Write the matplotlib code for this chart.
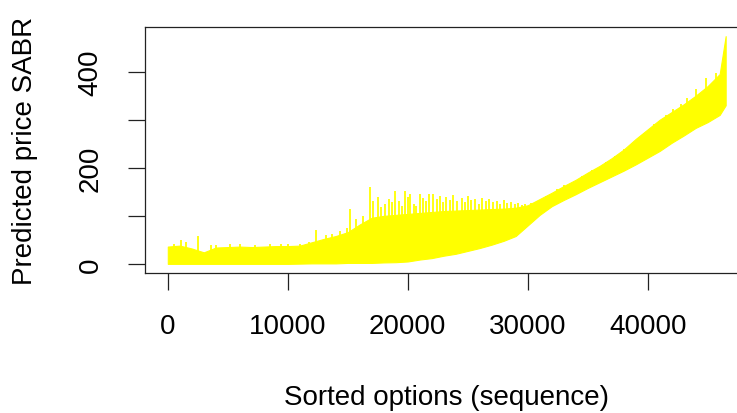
import numpy as np
import matplotlib
matplotlib.use('Agg')
import matplotlib.pyplot as plt

# Sorted option index (read every 1000 along the sequence)
seq = [0, 1000, 2000, 3000, 4000, 5000, 6000, 7000, 8000, 9000,
       10000, 11000, 12000, 13000, 14000, 15000, 16000, 17000, 18000, 19000,
       20000, 21000, 22000, 23000, 24000, 25000, 26000, 27000, 28000, 29000,
       30000, 31000, 32000, 33000, 34000, 35000, 36000, 37000, 38000, 39000,
       40000, 41000, 42000, 43000, 44000, 45000, 46000, 46500]

# lower edge of the predicted price band
price_low = [0, 0, 0, 0, 0, 0, 0, 0, 0, 0,
             0, 0.5, 1, 1, 1, 2, 2, 2, 3, 3.5,
             5, 9, 12, 17, 21, 27, 33, 40, 48, 58,
             80, 102, 120, 133, 145, 158, 170, 182, 194, 207,
             221, 235, 252, 267, 283, 295, 310, 330]

# dense upper edge of the band
price_high = [36, 38, 32, 24, 34, 35, 36, 35, 36, 37,
              37, 38, 45, 52, 58, 66, 82, 96, 100, 102,
              104, 106, 108, 110, 111, 112, 113, 114, 115, 117,
              122, 135, 148, 162, 175, 190, 204, 220, 238, 260,
              280, 300, 316, 332, 350, 370, 395, 474]

# isolated spikes above the band
spike_x = [500, 1060, 1500, 2530, 3600, 4000, 5200, 6000, 7300, 8500,
           9400, 10000, 11000, 11800, 12390, 13200, 13700, 14330, 14900, 15220,
           15700, 16300, 16830, 17100, 17500, 17800, 18100, 18400, 18700, 18920,
           19300, 19550, 19750, 20000, 20200, 20500, 20700, 21000, 21250, 21500,
           21800, 22080, 22400, 22670, 22950, 23200, 23500, 23800, 24100, 24500,
           24800, 25000, 25300, 25600, 25900, 26200, 26500, 26800, 27100, 27400,
           27700, 28000, 28300, 28600, 28900, 29200, 29500, 29800, 30300, 31500,
           32400, 33000, 34500, 35400, 36500, 37300, 38000, 38800, 39500, 40500,
           41500, 42100, 42800, 43300, 44060, 44830, 45670]
spike_y = [42, 50, 45, 57, 40, 40, 41, 42, 40, 41,
           41, 42, 42, 45, 71, 60, 62, 68, 75, 115,
           93, 100, 160, 130, 140, 118, 125, 135, 128, 152,
           130, 120, 152, 140, 145, 125, 120, 145, 137, 130,
           145, 146, 135, 142, 128, 140, 132, 143, 130, 138,
           128, 142, 132, 135, 125, 138, 130, 135, 128, 130,
           125, 132, 127, 128, 124, 126, 123, 125, 126, 142,
           155, 165, 182, 195, 212, 225, 240, 252, 268, 292,
           310, 322, 333, 345, 363, 387, 398]

fig = plt.figure(figsize=(7.37, 4.14), dpi=100)
plt.rcParams['font.family'] = ['Liberation Sans', 'DejaVu Sans']
ax = fig.add_axes([0.1974, 0.3382, 0.8175, 0.5942])

ax.fill_between(seq, price_low, price_high, color='#ffff00', linewidth=0.8, edgecolor='#ffff00')
base = np.interp(spike_x, seq, price_low)
ax.vlines(spike_x, base, spike_y, color='#ffff00', linewidth=1.3)

ax.margins(x=0.04, y=0.04)
ax.set_xticks([0, 10000, 20000, 30000, 40000])
ax.set_xticklabels(['0', '10000', '20000', '30000', '40000'])
ax.set_yticks([0, 100, 200, 300, 400])
ax.set_yticklabels(['0', '', '200', '', '400'], rotation=90, va='center')

ax.tick_params(axis='both', direction='out', length=12, width=0.9, labelsize=20, color='#222222')
ax.tick_params(axis='x', pad=17)
ax.tick_params(axis='y', pad=18)
for s in ax.spines.values():
  s.set_linewidth(0.9)
  s.set_color('#222222')

ax.set_xlabel('Sorted options (sequence)', fontsize=20, labelpad=32)
ax.set_ylabel('Predicted price SABR', fontsize=20, labelpad=29)

fig.savefig('out.png', dpi=100)
